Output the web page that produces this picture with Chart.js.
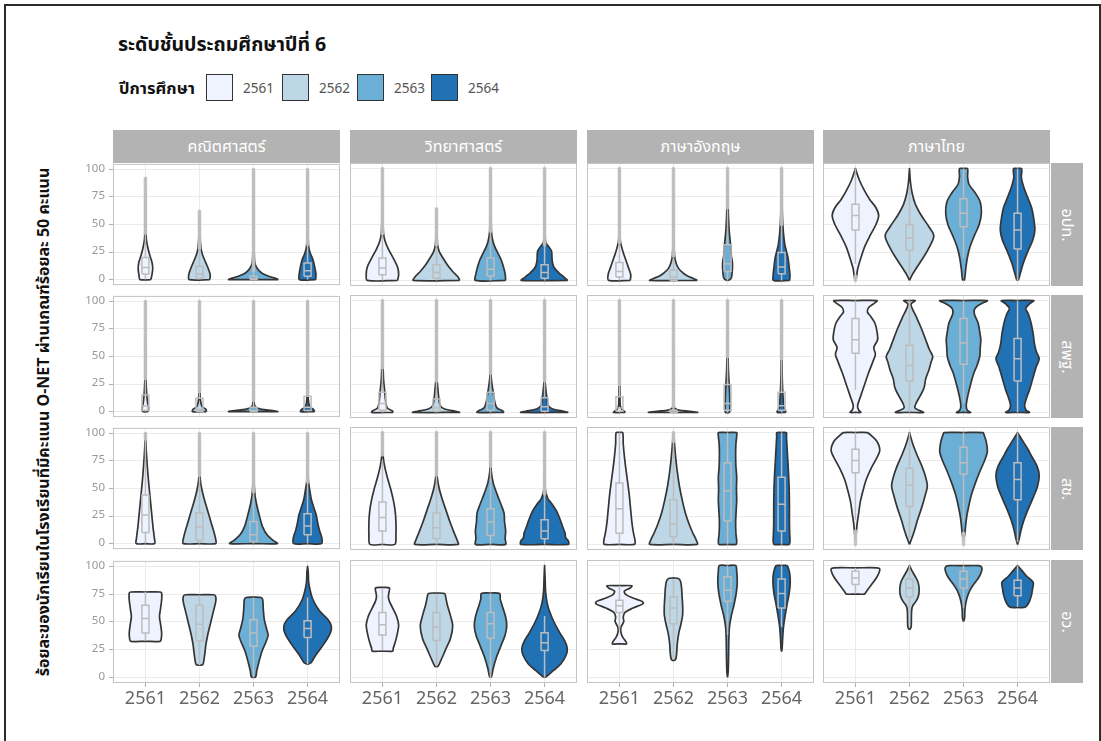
<!DOCTYPE html>
<html>
<head>
<meta charset="utf-8">
<script src="https://cdn.jsdelivr.net/npm/chart.js@4.4.0/dist/chart.umd.min.js"></script>
<style>
  body { margin: 0; background: #fff; font-family: "Noto Sans Thai", "Noto Sans", "DejaVu Sans", sans-serif; }
  #page { position: relative; width: 1101px; height: 741px; overflow: hidden; }
  .frame { position: absolute; left: 4px; top: 4px; width: 1093px; height: 760px; border: 2px solid #2b2b2b; border-bottom: none; }
  .title { position: absolute; left: 118px; top: 30px; font-size: 19.5px; font-weight: bold; color: #111; }
  .legtitle { position: absolute; left: 119px; top: 76px; font-size: 16.5px; font-weight: bold; color: #111; }
  .key { position: absolute; top: 74px; width: 25px; height: 25px; border: 1.5px solid #333; }
  .keylab { position: absolute; top: 79px; font-size: 13.5px; color: #555; }
  .strip { position: absolute; background: #b3b3b3; color: #fff; font-size: 16px; display: flex; align-items: center; justify-content: center; }
  .rstrip span { display: inline-block; transform: rotate(90deg); white-space: nowrap; }
  .ytitle { position: absolute; left: -256px; top: 411px; width: 600px; height: 22px; line-height: 22px; text-align: center;
            font-size: 16px; font-weight: bold; color: #111; transform: rotate(-90deg); white-space: nowrap; }
  canvas { position: absolute; }
</style>
</head>
<body>
<div id="page">
  <div class="frame"></div>
  <div class="title">ระดับชั้นประถมศึกษาปีที่ 6</div>
  <div class="legtitle">ปีการศึกษา</div>
  <div class="ytitle">ร้อยละของนักเรียนในโรงเรียนที่มีคะแนน O-NET ผ่านเกณฑ์ร้อยละ 50 คะแนน</div>
</div>
<script>
const years = ["2561", "2562", "2563", "2564"];
const subjects = ["คณิตศาสตร์", "วิทยาศาสตร์", "ภาษาอังกฤษ", "ภาษาไทย"];
const affiliations = ["อปท.", "สพฐ.", "สช.", "อว."];
const yTicks = [0, 25, 50, 75, 100];

// violin outline per year: [score, half width] from bottom to top
// box: [whisker low, q1, median, q3, whisker high]; out: outlier span or null

// อปท.
const mathLao = [
  [[0,0.1],[4,0.12],[10,0.135],[16,0.12],[22,0.08],[30,0.04],[38,0.015],[60,0.008],[92,0]],
  [[0,0.19],[4,0.2],[9,0.17],[15,0.12],[22,0.06],[28,0.03],[40,0.01],[62,0]],
  [[0,0.46],[1,0.42],[3,0.28],[6,0.15],[10,0.07],[15,0.025],[30,0.01],[100,0]],
  [[0,0.15],[5,0.155],[12,0.13],[18,0.1],[24,0.05],[30,0.02],[45,0.008],[100,0]]
];
const mathLaoBox = [[0,5,11,20,42],[0,1,5,12,28],[0,0,1,3,8],[0,3,8,15,32]];
const mathLaoOut = [[42,92],[28,62],[8,100],[32,100]];

const sciLao = [
  [[0,0.28],[5,0.3],[12,0.28],[20,0.2],[28,0.11],[35,0.05],[42,0.02],[60,0.008],[100,0]],
  [[0,0.43],[3,0.4],[8,0.3],[14,0.2],[20,0.12],[26,0.05],[32,0.02],[45,0.008],[64,0]],
  [[0,0.28],[6,0.27],[12,0.24],[18,0.2],[24,0.14],[30,0.08],[36,0.04],[45,0.015],[100,0]],
  [[0,0.43],[3,0.36],[7,0.26],[12,0.17],[18,0.14],[26,0.13],[30,0.08],[34,0.02],[50,0.008],[100,0]]
];
const sciLaoBox = [[0,5,11,20,42],[0,2,7,14,32],[0,4,10,20,44],[0,2,7,14,32]];
const sciLaoOut = [[42,100],[32,64],[44,100],[32,100]];

const engLao = [
  [[0,0.2],[5,0.21],[11,0.17],[18,0.12],[25,0.07],[32,0.03],[38,0.012],[60,0.006],[100,0]],
  [[0,0.44],[1.5,0.38],[4,0.26],[7,0.17],[11,0.09],[16,0.045],[22,0.02],[35,0.008],[100,0]],
  [[0,0],[1,0.05],[3,0.075],[10,0.09],[16,0.09],[22,0.07],[28,0.065],[35,0.05],[45,0.03],[60,0.015],[80,0.007],[100,0]],
  [[0,0.15],[5,0.155],[12,0.14],[20,0.12],[26,0.09],[32,0.06],[42,0.035],[55,0.018],[70,0.008],[100,0]]
];
const engLaoBox = [[0,3,8,16,34],[0,0,3,9,22],[0,8,15,32,65],[0,6,12,25,50]];
const engLaoOut = [[34,100],[22,100],[65,100],[50,100]];

const thaiLao = [
  [[0,0],[3,0.02],[10,0.04],[20,0.1],[30,0.17],[40,0.27],[50,0.38],[58,0.43],[65,0.38],[72,0.27],[80,0.17],[90,0.07],[100,0]],
  [[0,0],[5,0.05],[12,0.14],[20,0.25],[30,0.37],[40,0.45],[48,0.36],[58,0.22],[68,0.11],[78,0.05],[88,0.018],[100,0]],
  [[0,0],[1,0.02],[10,0.04],[20,0.07],[30,0.12],[40,0.2],[50,0.29],[60,0.33],[70,0.31],[78,0.22],[86,0.1],[93,0.075],[100,0.075],[100,0]],
  [[0,0],[1,0.02],[8,0.06],[16,0.11],[26,0.19],[36,0.28],[45,0.32],[55,0.3],[65,0.26],[75,0.18],[84,0.11],[92,0.07],[100,0.075],[100,0]]
];
const thaiLaoBox = [[15,45,58,68,100],[5,27,38,50,85],[20,48,60,73,100],[0,28,45,60,100]];
const thaiLaoOut = [[0,4],null,null,null];

// สพฐ.
const mathObec = [
  [[0,0.05],[3,0.06],[8,0.04],[15,0.025],[30,0.01],[100,0]],
  [[0,0.13],[2,0.12],[4,0.06],[8,0.025],[15,0.012],[100,0]],
  [[0,0.46],[1,0.35],[2,0.15],[4,0.04],[8,0.012],[100,0]],
  [[0,0.13],[2,0.11],[4,0.05],[8,0.02],[15,0.01],[100,0]]
];
const mathObecBox = [[0,1,5,15,30],[0,0,2,12,18],[0,0,1,4,10],[0,1,4,14,16]];
const mathObecOut = [[30,100],[18,100],[10,100],[16,100]];

const sciObec = [
  [[0,0.2],[1.5,0.18],[4,0.09],[10,0.06],[20,0.04],[30,0.02],[50,0.008],[100,0]],
  [[0,0.44],[1,0.35],[3,0.15],[6,0.07],[14,0.04],[22,0.025],[30,0.01],[100,0]],
  [[0,0.25],[1.5,0.22],[4,0.12],[9,0.08],[18,0.05],[26,0.025],[34,0.01],[100,0]],
  [[0,0.44],[1,0.35],[3,0.15],[6,0.07],[12,0.045],[20,0.025],[28,0.01],[100,0]]
];
const sciObecBox = [[0,2,8,18,40],[0,1,4,12,28],[0,2,8,18,35],[0,1,5,13,28]];
const sciObecOut = [[40,100],[28,100],[35,100],[28,100]];

const engObec = [
  [[0,0.11],[1,0.09],[3,0.04],[6,0.015],[15,0.01],[100,0]],
  [[0,0.46],[1,0.3],[2,0.1],[4,0.02],[10,0.008],[100,0]],
  [[0,0.04],[5,0.045],[15,0.04],[25,0.03],[40,0.015],[60,0.008],[100,0]],
  [[0,0.08],[2,0.07],[5,0.04],[12,0.03],[20,0.02],[35,0.01],[100,0]]
];
const engObecBox = [[0,1,4,14,25],[0,0,0,2,5],[0,2,8,25,50],[0,2,6,18,48]];
const engObecOut = [[25,100],[5,100],[50,100],[48,100]];

const thaiObec = [
  [[0,0],[0,0.1],[2,0.06],[6,0.04],[15,0.1],[25,0.17],[35,0.24],[45,0.32],[52,0.37],[58,0.34],[65,0.41],[72,0.4],[80,0.36],[86,0.28],[90,0.22],[94,0.25],[98,0.36],[100,0.4],[100,0]],
  [[0,0],[0,0.26],[1.5,0.2],[4,0.1],[8,0.12],[15,0.2],[22,0.27],[30,0.3],[38,0.36],[45,0.4],[50,0.43],[56,0.37],[65,0.3],[75,0.22],[85,0.13],[93,0.05],[97,0.03],[100,0.11],[100,0]],
  [[0,0],[0,0.13],[2,0.07],[6,0.05],[15,0.08],[25,0.13],[35,0.19],[42,0.25],[50,0.3],[58,0.31],[65,0.32],[72,0.3],[80,0.27],[88,0.2],[93,0.21],[97,0.32],[100,0.44],[100,0]],
  [[0,0],[0,0.22],[2,0.16],[6,0.13],[12,0.16],[20,0.22],[30,0.28],[40,0.34],[48,0.4],[54,0.35],[62,0.31],[70,0.29],[80,0.25],[88,0.2],[93,0.15],[97,0.22],[100,0.3],[100,0]]
];
const thaiObecBox = [[20,53,65,84,100],[0,28,42,60,100],[8,43,62,84,100],[0,28,48,66,100]];
const thaiObecOut = [null,null,null,null];

// สช.
const mathOpec = [
  [[0,0],[0,0.17],[5,0.165],[15,0.14],[25,0.12],[40,0.09],[55,0.06],[70,0.035],[85,0.015],[100,0]],
  [[0,0],[0,0.3],[4,0.3],[10,0.27],[20,0.21],[30,0.15],[40,0.09],[50,0.04],[58,0.015],[70,0.006],[100,0]],
  [[0,0],[0,0.44],[3,0.36],[8,0.25],[15,0.17],[25,0.11],[35,0.06],[45,0.025],[60,0.008],[100,0]],
  [[0,0],[0,0.26],[6,0.26],[12,0.22],[18,0.19],[26,0.16],[32,0.12],[40,0.07],[50,0.035],[57,0.015],[70,0.006],[100,0]]
];
const mathOpecBox = [[0,10,26,44,95],[0,3,15,28,62],[0,2,8,20,47],[0,8,16,27,56]];
const mathOpecOut = [[95,100],[62,100],[47,100],[56,100]];

const sciOpec = [
  [[0,0],[0,0.23],[8,0.25],[20,0.25],[30,0.235],[40,0.2],[50,0.15],[60,0.09],[70,0.04],[78,0.015],[90,0.006],[100,0]],
  [[0,0],[0,0.4],[4,0.38],[10,0.33],[20,0.25],[30,0.18],[40,0.11],[50,0.05],[60,0.015],[70,0.006],[100,0]],
  [[0,0],[0,0.28],[5,0.27],[12,0.28],[20,0.26],[28,0.25],[35,0.2],[45,0.12],[55,0.05],[65,0.015],[80,0.005],[100,0]],
  [[0,0],[0,0.44],[3,0.44],[6,0.39],[10,0.38],[15,0.34],[22,0.29],[30,0.22],[36,0.14],[41,0.06],[50,0.012],[100,0]]
];
const sciOpecBox = [[0,12,24,38,75],[0,5,15,28,62],[0,8,20,32,70],[0,5,12,22,45]];
const sciOpecOut = [[80,100],[62,100],[70,100],[45,100]];

const engOpec = [
  [[0,0],[0,0.28],[3,0.29],[10,0.26],[20,0.23],[30,0.21],[45,0.18],[60,0.14],[75,0.1],[90,0.07],[100,0.06],[100,0]],
  [[0,0],[0,0.44],[4,0.42],[10,0.36],[18,0.29],[28,0.22],[40,0.16],[52,0.11],[65,0.07],[78,0.04],[88,0.022],[95,0.012],[100,0]],
  [[0,0],[0,0.16],[3,0.17],[10,0.155],[20,0.15],[30,0.16],[40,0.17],[50,0.165],[60,0.17],[70,0.155],[80,0.15],[90,0.155],[97,0.17],[100,0.17],[100,0]],
  [[0,0],[0,0.14],[3,0.155],[10,0.15],[20,0.145],[35,0.145],[50,0.14],[62,0.13],[75,0.115],[88,0.1],[97,0.09],[100,0.09],[100,0]]
];
const engOpecBox = [[0,10,32,55,100],[0,7,18,40,92],[0,21,48,73,100],[0,12,36,60,100]];
const engOpecOut = [null,[92,100],null,null];

const thaiOpec = [
  [[5,0],[10,0.015],[18,0.03],[28,0.06],[38,0.09],[48,0.14],[58,0.2],[68,0.29],[76,0.38],[84,0.45],[92,0.4],[97,0.3],[100,0.22],[100,0]],
  [[0,0],[5,0.04],[12,0.09],[22,0.15],[32,0.22],[42,0.28],[52,0.33],[60,0.3],[70,0.23],[80,0.14],[90,0.06],[100,0]],
  [[4,0],[8,0.02],[15,0.035],[25,0.06],[35,0.1],[45,0.15],[55,0.22],[65,0.3],[75,0.39],[83,0.44],[92,0.42],[98,0.38],[100,0.36],[100,0]],
  [[0,0],[5,0.03],[12,0.06],[22,0.12],[32,0.2],[42,0.29],[52,0.37],[62,0.4],[70,0.36],[78,0.27],[86,0.18],[93,0.09],[100,0]]
];
const thaiOpecBox = [[22,64,75,85,100],[5,34,53,68,100],[20,63,73,87,100],[2,40,58,73,100]];
const thaiOpecOut = [[0,12],null,[0,10],null];

// อว.
const mathMhesi = [
  [[32.5,0],[32.5,0.27],[34,0.29],[40,0.3],[48,0.28],[55,0.26],[62,0.28],[70,0.3],[76,0.3],[77,0.27],[77,0]],
  [[11,0],[11.5,0.06],[15,0.08],[22,0.1],[30,0.12],[40,0.16],[50,0.21],[60,0.26],[68,0.3],[73,0.3],[74.5,0.26],[74.5,0]],
  [[0,0],[0.5,0.04],[6,0.06],[14,0.1],[24,0.16],[32,0.23],[38,0.27],[44,0.24],[52,0.2],[62,0.18],[70,0.17],[72,0.14],[72.5,0]],
  [[12,0],[13,0.06],[20,0.15],[30,0.3],[40,0.42],[46,0.44],[52,0.38],[60,0.22],[70,0.1],[78,0.05],[86,0.02],[95,0.012],[100,0]]
];
const mathMhesiBox = [[33,40,53,65,77],[11,33,48,65,74],[0,28,40,52,72],[12,36,44,51,72]];
const mathMhesiOut = [null,null,null,null];

const sciMhesi = [
  [[23.5,0],[23.5,0.19],[26,0.2],[32,0.24],[40,0.28],[47,0.3],[55,0.26],[62,0.19],[68,0.13],[72,0.11],[76,0.12],[80,0.13],[80.5,0]],
  [[9.5,0],[10,0.03],[15,0.08],[25,0.17],[35,0.26],[46,0.3],[55,0.26],[65,0.2],[72,0.17],[75,0.15],[75.5,0]],
  [[0,0],[1,0.02],[8,0.05],[18,0.11],[28,0.19],[38,0.27],[46,0.3],[54,0.28],[62,0.23],[70,0.18],[75,0.17],[75.5,0]],
  [[0,0],[1,0.04],[6,0.16],[12,0.3],[20,0.4],[26,0.42],[32,0.38],[40,0.28],[50,0.17],[58,0.1],[66,0.05],[76,0.02],[88,0.01],[100,0]]
];
const sciMhesiBox = [[24,38,47,58,80],[10,33,45,58,75],[0,35,48,58,75],[0,24,31,40,55]];
const sciMhesiOut = [null,null,null,null];

const engMhesi = [
  [[30,0],[30,0.13],[32,0.12],[36,0.06],[41,0.025],[45,0.03],[50,0.08],[54,0.07],[58,0.1],[62,0.25],[66,0.44],[68,0.42],[71,0.25],[74,0.12],[77,0.09],[80,0.2],[82,0.23],[82,0]],
  [[15,0],[16,0.04],[22,0.06],[30,0.07],[40,0.1],[48,0.14],[56,0.17],[64,0.17],[72,0.16],[80,0.15],[86,0.13],[88.5,0.09],[89,0]],
  [[0,0],[5,0.012],[20,0.02],[35,0.025],[45,0.035],[55,0.07],[65,0.12],[75,0.16],[85,0.18],[95,0.17],[100,0.15],[100,0]],
  [[23,0],[26,0.01],[35,0.02],[45,0.035],[55,0.065],[65,0.1],[75,0.14],[85,0.16],[93,0.15],[100,0.1],[100,0]]
];
const engMhesiBox = [[42,58,64,69,82],[16,48,62,72,88],[38,68,78,90,100],[45,62,75,88,100]];
const engMhesiOut = [null,null,null,null];

const thaiMhesi = [
  [[74.5,0],[74.5,0.17],[76,0.19],[80,0.25],[85,0.33],[90,0.4],[94,0.44],[97,0.45],[98,0.4],[98,0]],
  [[42.5,0],[45,0.03],[52,0.035],[60,0.04],[64,0.06],[68,0.12],[72,0.16],[78,0.18],[85,0.16],[90,0.11],[95,0.05],[100,0]],
  [[50,0],[53,0.02],[60,0.025],[66,0.04],[72,0.07],[78,0.12],[84,0.2],[90,0.29],[96,0.34],[99,0.33],[100,0.28],[100,0]],
  [[62.5,0],[62.5,0.12],[64,0.17],[68,0.22],[74,0.26],[80,0.28],[85,0.29],[90,0.18],[95,0.09],[100,0]]
];
const thaiMhesiBox = [[75,83,89,95,98],[58,72,80,88,100],[62,80,88,95,100],[63,73,80,87,100]];
const thaiMhesiOut = [null,null,null,null];

const violins = [
  [mathLao, sciLao, engLao, thaiLao],
  [mathObec, sciObec, engObec, thaiObec],
  [mathOpec, sciOpec, engOpec, thaiOpec],
  [mathMhesi, sciMhesi, engMhesi, thaiMhesi]
];
const boxes = [
  [mathLaoBox, sciLaoBox, engLaoBox, thaiLaoBox],
  [mathObecBox, sciObecBox, engObecBox, thaiObecBox],
  [mathOpecBox, sciOpecBox, engOpecBox, thaiOpecBox],
  [mathMhesiBox, sciMhesiBox, engMhesiBox, thaiMhesiBox]
];
const outliers = [
  [mathLaoOut, sciLaoOut, engLaoOut, thaiLaoOut],
  [mathObecOut, sciObecOut, engObecOut, thaiObecOut],
  [mathOpecOut, sciOpecOut, engOpecOut, thaiOpecOut],
  [mathMhesiOut, sciMhesiOut, engMhesiOut, thaiMhesiOut]
];

const fills = ["#eff3ff", "#bdd7e7", "#6baed6", "#2171b5"];
const panelLeft = [113, 350, 587, 823];
const panelTop = [163, 295, 427, 560];
const PW = 227, PH = 123;
const FONT = '"Noto Sans Thai", "Noto Sans", "DejaVu Sans", sans-serif';

const page = document.getElementById("page");

// legend keys
const keyLeft = [206, 282, 357, 431];
years.forEach(function (y, i) {
  const k = document.createElement("div");
  k.className = "key";
  k.style.left = keyLeft[i] + "px";
  k.style.background = fills[i];
  page.appendChild(k);
  const t = document.createElement("div");
  t.className = "keylab";
  t.style.left = keyLeft[i] + 37 + "px";
  t.textContent = y;
  page.appendChild(t);
});

// strips
subjects.forEach(function (s, c) {
  const d = document.createElement("div");
  d.className = "strip";
  d.style.left = panelLeft[c] + "px";
  d.style.top = "130px";
  d.style.width = PW + "px";
  d.style.height = "33px";
  d.textContent = s;
  page.appendChild(d);
});
affiliations.forEach(function (a, r) {
  const d = document.createElement("div");
  d.className = "strip rstrip";
  d.style.left = "1051px";
  d.style.top = panelTop[r] + "px";
  d.style.width = "32px";
  d.style.height = PH + "px";
  d.innerHTML = "<span>" + a + "</span>";
  page.appendChild(d);
});

const panelBorder = {
  id: "panelBorder",
  afterDatasetsDraw(chart) {
    const a = chart.chartArea, ctx = chart.ctx;
    ctx.save();
    ctx.strokeStyle = "#c4c4c4";
    ctx.lineWidth = 1;
    ctx.strokeRect(a.left + 0.5, a.top + 0.5, a.right - a.left - 1, a.bottom - a.top - 1);
    ctx.restore();
  }
};

function violinPoints(profile, c) {
  const pts = profile.map(p => ({ x: c + p[1], y: p[0] }));
  for (let i = profile.length - 1; i >= 0; i--) {
    pts.push({ x: c - profile[i][1], y: profile[i][0] });
  }
  pts.push({ x: pts[0].x, y: pts[0].y });
  return pts;
}

function boxPoints(b, c) {
  const w = 0.065;
  return [
    { x: c, y: b[0] }, { x: c, y: b[1] }, { x: c, y: null },
    { x: c, y: b[3] }, { x: c, y: b[4] }, { x: c, y: null },
    { x: c - w, y: b[1] }, { x: c + w, y: b[1] }, { x: c + w, y: b[3] }, { x: c - w, y: b[3] }, { x: c - w, y: b[1] },
    { x: c, y: null },
    { x: c - w, y: b[2] }, { x: c + w, y: b[2] }
  ];
}

function makePanel(r, c) {
  const padL = c === 0 ? 36 : 10;
  const padB = r === 3 ? 32 : 10;
  const cv = document.createElement("canvas");
  cv.width = PW + padL + 10;
  cv.height = PH + 10 + padB;
  cv.style.left = panelLeft[c] - padL + "px";
  cv.style.top = panelTop[r] - 10 + "px";
  page.appendChild(cv);

  const datasets = [];
  years.forEach(function (y, i) {
    const cx = i + 1;
    datasets.push({
      data: violinPoints(violins[r][c][i], cx),
      showLine: true, fill: "shape", tension: 0.3,
      backgroundColor: fills[i], borderColor: "#353535", borderWidth: 1.7,
      borderJoinStyle: "round", pointRadius: 0, order: 3
    });
    const o = outliers[r][c][i];
    if (o) {
      datasets.push({
        data: [{ x: cx, y: o[0] }, { x: cx, y: o[1] }],
        showLine: true, borderColor: "rgba(195,195,195,0.95)", borderWidth: 3.5,
        borderCapStyle: "round", pointRadius: 0, order: 2
      });
    }
    datasets.push({
      data: boxPoints(boxes[r][c][i], cx),
      showLine: true, spanGaps: false, tension: 0,
      borderColor: "#bdbdbd", borderWidth: 1.5, pointRadius: 0, order: 1
    });
  });

  new Chart(cv, {
    type: "scatter",
    data: { datasets: datasets },
    options: {
      responsive: false,
      animation: false,
      devicePixelRatio: 1,
      layout: { padding: { left: c === 0 ? 0 : 10, right: 10, top: 10, bottom: r === 3 ? 0 : 10 } },
      plugins: { legend: { display: false }, tooltip: { enabled: false } },
      scales: {
        x: {
          type: "linear", min: 0.4, max: 4.6,
          afterBuildTicks: s => { s.ticks = years.map((y, i) => ({ value: i + 1 })); },
          afterFit: s => { s.height = r === 3 ? 32 : 0; },
          border: { display: false },
          grid: { color: "#ebebeb", drawTicks: r === 3, tickLength: 4, tickColor: "#b0b0b0" },
          ticks: {
            display: r === 3, padding: 3, maxRotation: 0, color: "#666666",
            font: { family: FONT, size: 18 },
            callback: v => years[v - 1]
          }
        },
        y: {
          min: -5, max: 105,
          afterBuildTicks: s => { s.ticks = yTicks.map(v => ({ value: v })); },
          afterFit: s => { s.width = c === 0 ? 36 : 0; },
          border: { display: false },
          grid: { color: "#ebebeb", drawTicks: c === 0, tickLength: 4, tickColor: "#b0b0b0" },
          ticks: {
            display: c === 0, padding: 4, color: "#999999",
            font: { family: FONT, size: 11.5 }
          }
        }
      }
    },
    plugins: [panelBorder]
  });
}

for (let r = 0; r < 4; r++) {
  for (let c = 0; c < 4; c++) makePanel(r, c);
}
</script>
</body>
</html>
